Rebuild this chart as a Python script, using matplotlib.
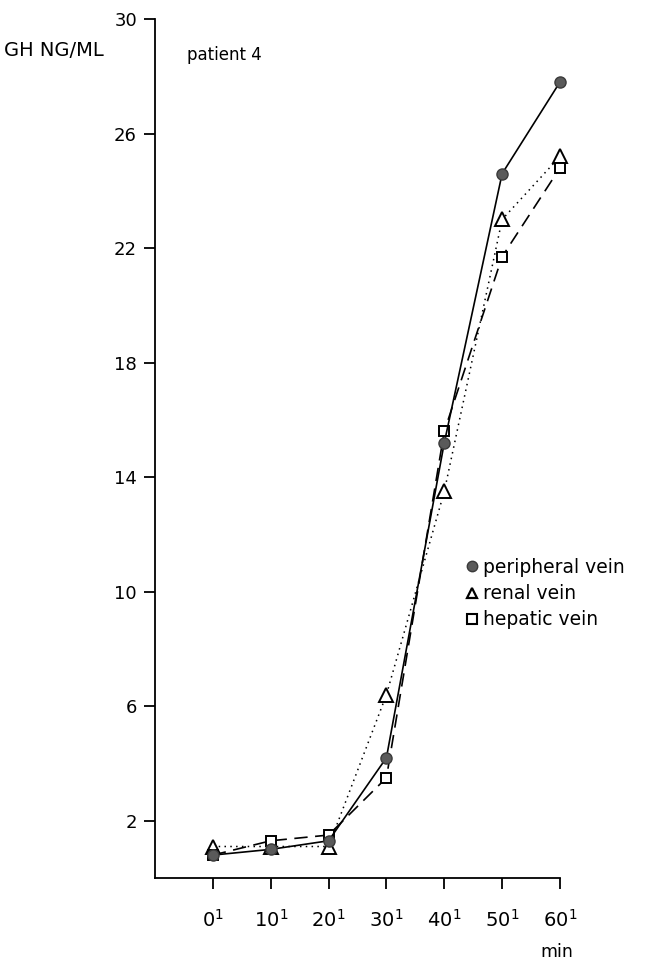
import matplotlib
matplotlib.use("Agg")
import matplotlib.pyplot as plt
from matplotlib.lines import Line2D

plt.rcParams['font.family'] = ['DejaVu Sans']

minutes = [0, 10, 20, 30, 40, 50, 60]
peripheral = [0.8, 1.0, 1.3, 4.2, 15.2, 24.6, 27.8]
renal = [1.1, 1.1, 1.1, 6.4, 13.5, 23.0, 25.2]
hepatic = [0.8, 1.3, 1.5, 3.5, 15.6, 21.7, 24.8]
y_ticks = [2, 6, 10, 14, 18, 22, 26, 30]
x_tick_labels = ["0", "10", "20", "30", "40", "50", "60"]

fig = plt.figure(figsize=(6.5, 9.66), dpi=100)
ax = fig.add_axes([155 / 650, 1 - 878 / 966, (560 - 155) / 650, (878 - 19) / 966])

ax.plot(minutes, renal, color='black', lw=1.1, linestyle=(0, (1, 2.8)),
        marker='^', ms=9.5, mfc='white', mec='black', mew=1.4, zorder=3, clip_on=False)
ax.plot(minutes, hepatic, color='black', lw=1.2, linestyle=(0, (8, 4.5)),
        marker='s', ms=7.5, mfc='white', mec='black', mew=1.4, zorder=4, clip_on=False)
ax.plot(minutes, peripheral, color='black', lw=1.2, linestyle='-',
        marker='o', ms=8, mfc='#5a5a5a', mec='#3a3a3a', mew=1.0, zorder=5, clip_on=False)

ax.set_xlim(-10, 60)
ax.set_ylim(0, 30)
ax.spines['top'].set_visible(False)
ax.spines['right'].set_visible(False)
for s in ('left', 'bottom'):
    ax.spines[s].set_linewidth(1.3)

ax.set_yticks(y_ticks)
ax.set_yticklabels([str(v) for v in y_ticks], fontsize=13)
ax.set_xticks(minutes)
ax.set_xticklabels([r"$\mathregular{%s^{1}}$" % t for t in x_tick_labels], fontsize=14)
ax.tick_params(axis='both', direction='out', length=8, width=1.3)
ax.tick_params(axis='x', pad=14)
ax.tick_params(axis='y', pad=5)

fig.text(4 / 650, 1 - 50 / 966, "GH NG/ML", fontsize=14, va='center', ha='left')
fig.text(187 / 650, 1 - 55 / 966, "patient 4", fontsize=12, va='center', ha='left')
fig.text(557 / 650, 1 - 952 / 966, "min", fontsize=12.5, va='center', ha='center')

handles = [
    Line2D([], [], linestyle='none', marker='o', ms=7.5, mfc='#5a5a5a', mec='#3a3a3a'),
    Line2D([], [], linestyle='none', marker='^', ms=7.5, mfc='white', mec='black', mew=1.6),
    Line2D([], [], linestyle='none', marker='s', ms=6.5, mfc='white', mec='black', mew=1.5),
]
ax.legend(handles, ["peripheral vein", "renal vein", "hepatic vein"],
          loc='upper left', bbox_to_anchor=(467 / 650, 1 - 558 / 966),
          bbox_transform=fig.transFigure, frameon=False, fontsize=13.5,
          handlelength=0.55, handletextpad=0.3, labelspacing=0.38, borderpad=0,
          borderaxespad=0)

fig.savefig("out.png", dpi=100, facecolor='white')
